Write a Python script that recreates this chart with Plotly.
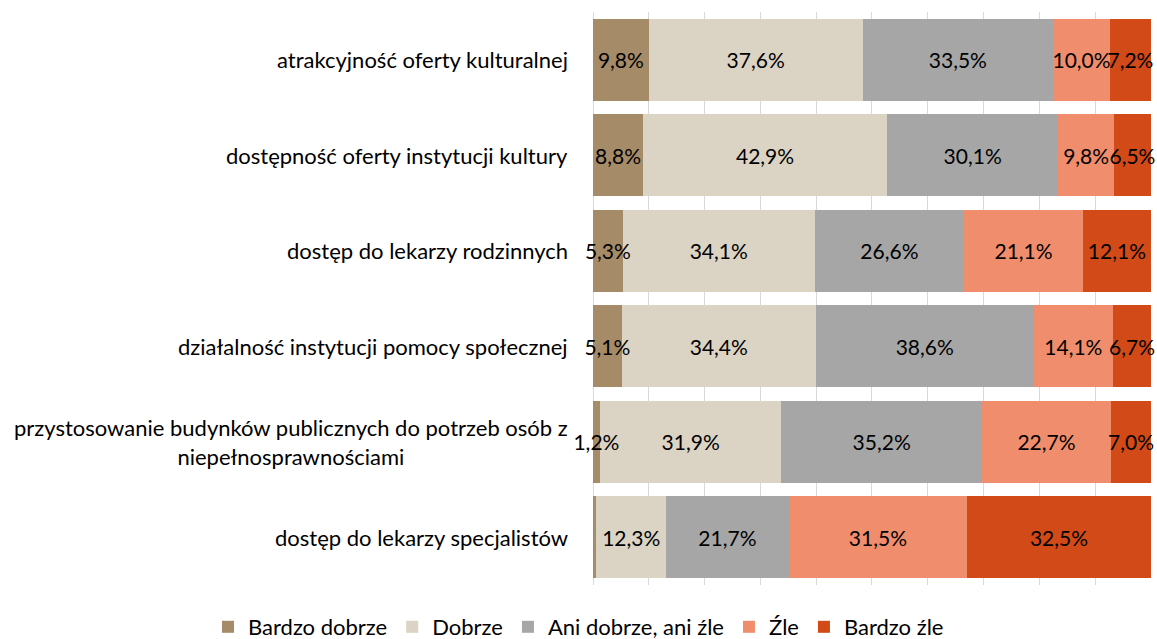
import plotly.graph_objects as go

# Survey categories (top to bottom)
categories = [
    "atrakcyjność oferty kulturalnej",
    "dostępność oferty instytucji kultury",
    "dostęp do lekarzy rodzinnych",
    "działalność instytucji pomocy społecznej",
    "przystosowanie budynków publicznych do potrzeb osób z<br>niepełnosprawnościami",
    "dostęp do lekarzy specjalistów",
]

# Share of answers (%) per rating
bardzo_dobrze = [9.8, 8.8, 5.3, 5.1, 1.2, 0.6]
dobrze = [37.6, 42.9, 34.1, 34.4, 31.9, 12.3]
ani_dobrze_ani_zle = [33.5, 30.1, 26.6, 38.6, 35.2, 21.7]
zle = [10.0, 9.8, 21.1, 14.1, 22.7, 31.5]
bardzo_zle = [7.2, 6.5, 12.1, 6.7, 7.0, 32.5]

# labels hidden for segments too thin to carry one
hidden_labels = {("Bardzo dobrze", 5)}

series = [
    ("Bardzo dobrze", bardzo_dobrze, "#A68B68"),
    ("Dobrze", dobrze, "#DBD3C3"),
    ("Ani dobrze, ani źle", ani_dobrze_ani_zle, "#A6A6A6"),
    ("Źle", zle, "#F08D6C"),
    ("Bardzo źle", bardzo_zle, "#D24A18"),
]

FONT = "Lato"
W, H = 1157, 639
R, T, B = 6, 12, 54
PLOT_LEFT = 593          # left edge of the bars, px
LABEL_RIGHT = 570        # right edge of the category labels, px
paper_w = W - R
paper_h = H - T - B
X_RANGE = [0, 100.01]


def fmt(v):
    return f"{v:.1f}".replace(".", ",") + "%"


fig = go.Figure()

# coloured segments
for name, vals, color in series:
    fig.add_trace(go.Bar(
        name=name,
        y=categories,
        x=vals,
        orientation="h",
        marker=dict(color=color, line=dict(width=0)),
        textposition="none",
        hoverinfo="skip",
        xaxis="x", yaxis="y",
    ))

# value labels on an overlaid copy so they sit above every segment
for name, vals, color in series:
    texts = ["" if (name, i) in hidden_labels else fmt(v) for i, v in enumerate(vals)]
    fig.add_trace(go.Bar(
        name=name,
        y=categories,
        x=vals,
        orientation="h",
        marker=dict(color="rgba(0,0,0,0)", line=dict(width=0)),
        text=texts,
        textposition="inside",
        insidetextanchor="middle",
        textangle=0,
        constraintext="none",
        textfont=dict(color="black", size=21, family=FONT),
        cliponaxis=False,
        showlegend=False,
        hoverinfo="skip",
        xaxis="x2", yaxis="y",
    ))

# category labels, right-aligned against the plot, centred when wrapped
for cat in categories:
    fig.add_annotation(
        xref="paper", yref="y",
        x=LABEL_RIGHT / paper_w, y=cat,
        text=cat, showarrow=False,
        xanchor="right", yanchor="middle", align="center",
        font=dict(size=22, color="black", family=FONT),
    )

axis_common = dict(
    range=X_RANGE, dtick=10,
    showticklabels=False, showline=False, fixedrange=True,
    domain=[PLOT_LEFT / paper_w, 1],
)

fig.update_layout(
    width=W, height=H,
    margin=dict(l=0, r=R, t=T, b=B, autoexpand=False),
    barmode="stack",
    barnorm="percent",
    bargap=0.14,
    paper_bgcolor="white",
    plot_bgcolor="white",
    font=dict(family=FONT, color="black"),
    showlegend=True,
    legend=dict(
        orientation="h",
        x=208 / paper_w, xanchor="left",
        y=-(627 - (H - B)) / paper_h, yanchor="middle",
        font=dict(size=22, family=FONT, color="black"),
        traceorder="normal",
        itemwidth=30,
    ),
    xaxis=dict(
        **axis_common,
        showgrid=True, gridcolor="#D9D9D9", gridwidth=1,
        zeroline=True, zerolinecolor="#D9D9D9", zerolinewidth=1,
    ),
    xaxis2=dict(
        **axis_common,
        overlaying="x", showgrid=False, zeroline=False,
    ),
    yaxis=dict(
        autorange="reversed",
        showticklabels=False, showgrid=False, showline=False,
        zeroline=False,
    ),
)

fig.write_html("out.html")
